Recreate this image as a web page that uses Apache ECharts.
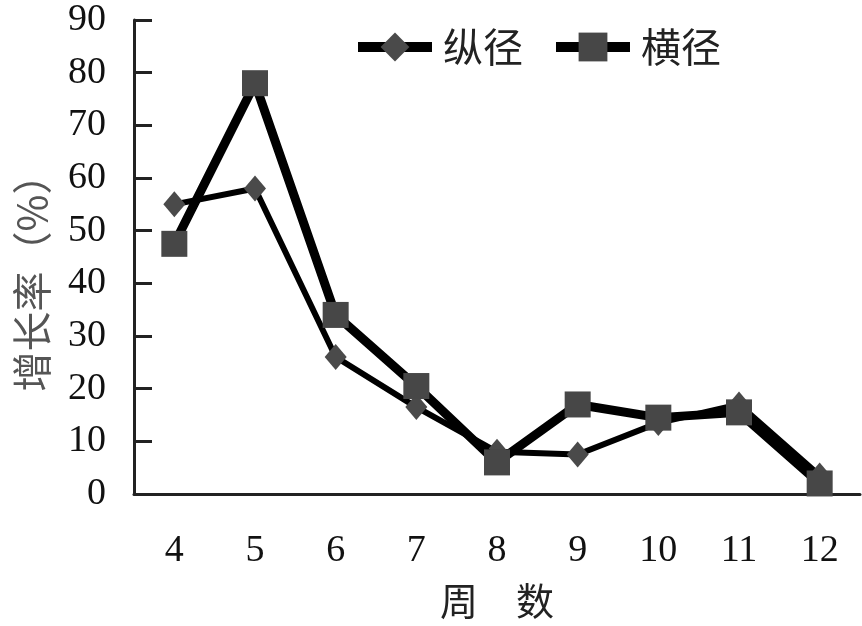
<!DOCTYPE html>
<html><head><meta charset="utf-8">
<script src="https://cdn.jsdelivr.net/npm/echarts@6/dist/echarts.min.js"></script>
<style>html,body{margin:0;padding:0;background:#fff}#c{width:862px;height:626px}</style>
</head><body><div id="c"></div>
<script>
const weeks = ['4','5','6','7','8','9','10','11','12'];
const zongjing = [55, 58, 26, 16.5, 8, 7.5, 13.5, 17, 3.5];
const hengjing = [47.5, 78, 34, 20.5, 6, 17, 14.5, 15.5, 2];
const yTicks = [0, 10, 20, 30, 40, 50, 60, 70, 80, 90];

const chart = echarts.init(document.getElementById('c'));
const numFont = '"Liberation Serif", "DejaVu Serif", serif';
const cjkFont = '"Noto Sans CJK SC", sans-serif';
chart.setOption({
  animation: false,
  backgroundColor: '#fff',
  grid: { left: 134, right: 2, top: 20, bottom: 132, containLabel: false, outerBoundsMode: 'none' },
  legend: {
    top: 22, left: 348,
    itemWidth: 74, itemHeight: 36, itemGap: 28,
    lineStyle: { width: 10, color: '#000' },
    textStyle: { fontFamily: cjkFont, fontSize: 40, color: '#222', padding: [0,0,0,6] },
    data: ['纵径', '横径']
  },
  xAxis: {
    type: 'category', data: weeks, boundaryGap: true,
    name: '周　数', nameLocation: 'middle', nameGap: 88,
    nameTextStyle: { fontFamily: cjkFont, fontSize: 38, color: '#222' },
    axisLine: { lineStyle: { color: '#222', width: 3 } },
    axisTick: { inside: true, length: 16, lineStyle: { color: '#222', width: 3 } },
    axisLabel: { fontFamily: numFont, fontSize: 38, color: '#111', margin: 38 },
    splitLine: { show: false }
  },
  yAxis: {
    type: 'value', min: yTicks[0], max: yTicks[yTicks.length-1], interval: 10,
    name: '增长率（%）', nameLocation: 'middle', nameRotate: 90, nameGap: 82,
    nameTextStyle: { fontFamily: cjkFont, fontSize: 40, color: '#555', padding: [0, 32, 0, 0] },
    axisLine: { show: true, lineStyle: { color: '#222', width: 3 } },
    axisTick: { show: true, inside: true, length: 18, lineStyle: { color: '#222', width: 3 } },
    axisLabel: { fontFamily: numFont, fontSize: 38, color: '#111', margin: 28 },
    splitLine: { show: false }
  },
  series: [
    {
      name: '纵径', type: 'line', data: zongjing,
      symbol: 'diamond', symbolSize: [22, 26],
      lineStyle: { color: '#000', width: 6 },
      itemStyle: { color: '#4a4a4a', borderWidth: 0 },
      z: 2
    },
    {
      name: '横径', type: 'line', data: hengjing,
      symbol: 'rect', symbolSize: 26,
      lineStyle: { color: '#000', width: 9 },
      itemStyle: { color: '#474747', borderWidth: 0 },
      z: 3
    }
  ]
});
</script></body></html>
